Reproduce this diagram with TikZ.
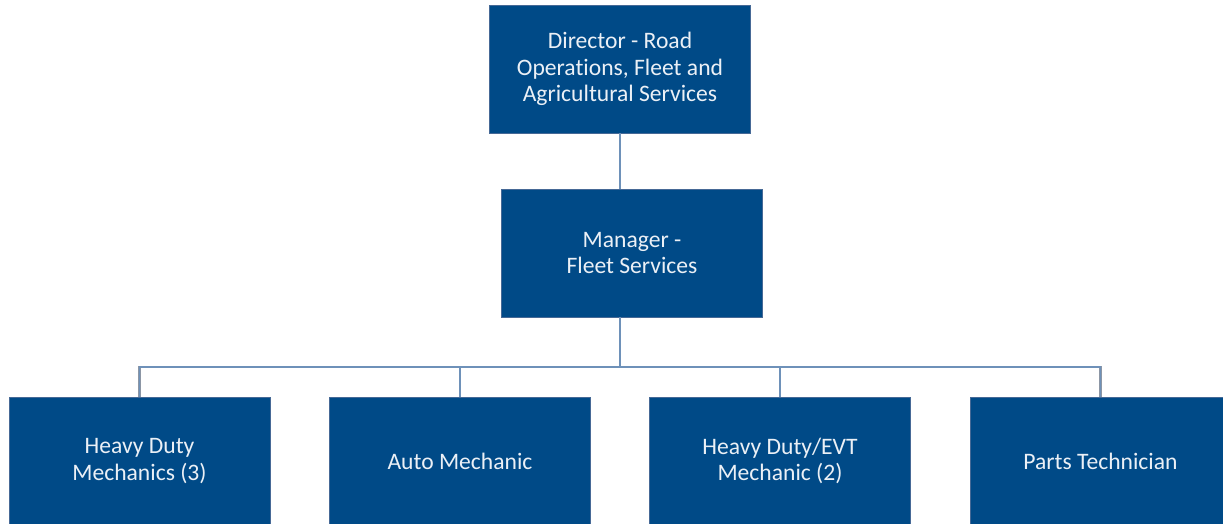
\documentclass[tikz,border=0pt]{standalone}
\usepackage{fontspec}
\setmainfont{Carlito}[Ligatures=NoCommon]
\definecolor{boxblue}{RGB}{0,74,135}
\definecolor{boxedge}{RGB}{70,105,150}
\definecolor{linkblue}{RGB}{110,145,185}
\definecolor{linkedge}{RGB}{140,150,165}
\definecolor{labelwhite}{RGB}{235,240,246}

\begin{document}
\begin{tikzpicture}[x=1pt,y=-1pt,
    orgbox/.style={rectangle,fill=boxblue,draw=boxedge,line width=0.6pt,
        minimum width=261pt,minimum height=128pt,inner sep=0pt,
        text=labelwhite,align=center,font=\fontsize{23.6}{26.5}\selectfont},
    link/.style={draw=linkedge,double=linkblue,line width=0.5pt,double distance=1.8pt}]
            \useasboundingbox (0,0) rectangle (1223,523);
            \fill[white] (0,0) rectangle (1223,523);

            % top levels
            \node[orgbox] (dir) at (620,69) {Director - Road\\Operations, Fleet and\\Agricultural Services};
            \node[orgbox] (mgr) at (632,253) {Manager -\\Fleet Services};

            % staff row
            \node[orgbox] (hdm) at (139.5,461) {Heavy Duty\\Mechanics (3)};
            \node[orgbox] (auto) at (460,461) {Auto Mechanic};
            \node[orgbox] (evt) at (780,461) {Heavy Duty/EVT\\Mechanic (2)};
            \node[orgbox] (parts) at (1100.5,461) {Parts Technician};

            \coordinate (bus) at (620,367);

            \draw[link] (dir.south) -- (dir.south |- mgr.north);
            \draw[link] (dir.south |- mgr.south) -- (bus);
            \draw[link] (hdm.north) |- (bus) -| (parts.north);
            \draw[link] (bus -| auto.north) -- (auto.north);
            \draw[link] (bus -| evt.north) -- (evt.north);
        \end{tikzpicture}
\end{document}
